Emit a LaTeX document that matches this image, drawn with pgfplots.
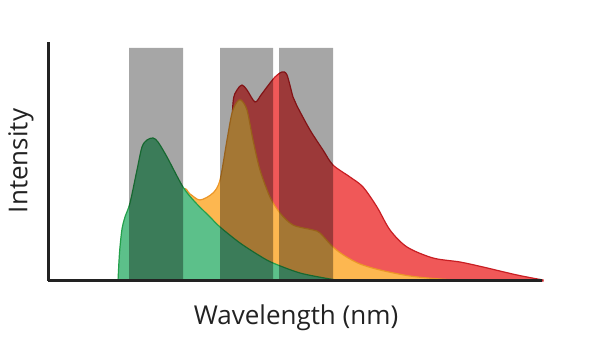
\documentclass[border=0pt]{standalone}
\usepackage{pgfplots}
\pgfplotsset{compat=1.18}
\usepackage{fontspec}
\setmainfont{Open Sans}
\definecolor{gfill}{RGB}{92,192,138}
\definecolor{gedge}{RGB}{35,160,75}
\definecolor{ofill}{RGB}{253,183,80}
\definecolor{oedge}{RGB}{235,150,40}
\definecolor{rfill}{RGB}{240,88,88}
\definecolor{redge}{RGB}{200,30,35}
\definecolor{barg}{RGB}{166,166,166}
\definecolor{axc}{RGB}{34,34,34}
\begin{document}
\begin{tikzpicture}
\begin{axis}[x=1pt,y=1pt,xmin=48,xmax=542,ymin=0,ymax=239,
  axis x line*=bottom, axis y line*=left,
  axis line style={line width=3pt, color=axc},
  xtick=\empty, ytick=\empty, clip=false, axis on top]
% red
\addplot[smooth, tension=0.5, fill=rfill, draw=redge, line width=1.2pt] coordinates {
(229,0) (231,120) (233,178) (237,191) (242,196) (247,191) (255,179) (261,186) (267,194) (275,204) (282,209) (287,206) (293,184) (297,175) (310,151) (323,131) (333,116) (350,104) (363,94) (377,74) (390,51) (407,34) (433,23) (460,19) (483,14) (517,6) (543,1)} \closedcycle;
% orange
\addplot[smooth, tension=0.5, fill=ofill, draw=oedge, line width=1.2pt] coordinates {
(150,0) (170,40) (183,90) (190,87) (200,81) (213,88) (220,101) (227,141) (232,168) (237,179) (241,181) (247,171) (253,141) (260,111) (270,84) (280,68) (293,56) (313,51) (320,48) (333,34) (345,25) (360,17) (380,11) (410,5) (440,2) (480,0)} \closedcycle;
% green
\addplot[smooth, tension=0.5, fill=gfill, draw=gedge, line width=1.2pt] coordinates {
(118,0) (119,20) (120,34) (122,52) (125,64) (130,78) (137,111) (142,134) (147,141) (153,143) (158,139) (167,124) (183,94) (195,79) (210,64) (220,54) (240,38) (260,25) (273,18) (300,8) (330,2) (345,0)} \closedcycle;
% grey bars
\addplot[fill=barg, draw=none, blend mode=multiply] coordinates {(129,0) (129,233) (183,233) (183,0)} \closedcycle;
\addplot[fill=barg, draw=none, blend mode=multiply] coordinates {(220,0) (220,233) (273,233) (273,0)} \closedcycle;
\addplot[fill=barg, draw=none, blend mode=multiply] coordinates {(279,0) (279,233) (333,233) (333,0)} \closedcycle;
\node[font=\fontsize{26}{31}\selectfont, text=axc] at (axis cs:296,-37) {Wavelength (nm)};
\node[font=\fontsize{26}{31}\selectfont, text=axc, rotate=90] at (axis cs:21,120) {Intensity};
\coordinate (bl) at (axis cs:0,-58);
\coordinate (tr) at (axis cs:600,281);
\end{axis}
\pgfresetboundingbox
\path[use as bounding box] (bl) rectangle (tr);
\end{tikzpicture}
\end{document}
